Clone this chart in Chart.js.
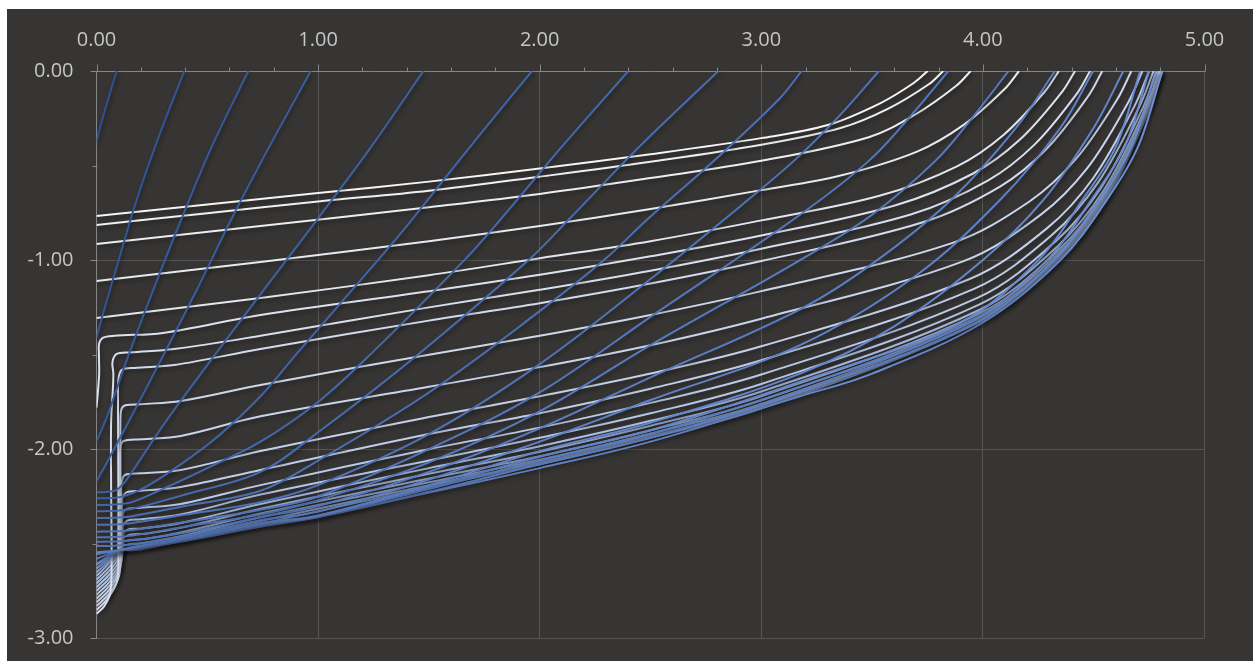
<!DOCTYPE html>
<html>
<head>
<meta charset="utf-8">
<script src="https://cdn.jsdelivr.net/npm/chart.js@4.4.1/dist/chart.umd.min.js"></script>
<style>
  html, body { margin: 0; padding: 0; background: #ffffff; }
  #frame { position: absolute; left: 7px; top: 9px; width: 1246px; height: 652px; background: #373533; }
  canvas { display: block; }
</style>
</head>
<body>
<div id="frame"><canvas id="chart" width="1246" height="652"></canvas></div>
<script>
// Axis ticks
const xTickValues = [0, 1, 2, 3, 4, 5];
const xMinorTicks = [0.2, 0.4, 0.6, 0.8, 1.2, 1.4, 1.6, 1.8, 2.2, 2.4, 2.6, 2.8, 3.2, 3.4, 3.6, 3.8, 4.2, 4.4, 4.6, 4.8];
const yTickValues = [0, -1, -2, -3];
const yMinorTicks = [-0.5, -1.5, -2.5];

// Pale family: each curve as [x, y] points
const paleCurves = [
  [[0,-0.767],[0.5,-0.706],[1,-0.645],[1.5,-0.585],[2,-0.515],[2.5,-0.44],[3,-0.355],[3.3,-0.286],[3.536,-0.171],[3.686,-0.065],[3.751,0]],
  [[0,-0.814],[0.5,-0.752],[1,-0.69],[1.5,-0.633],[2,-0.559],[2.5,-0.48],[3,-0.39],[3.361,-0.30],[3.571,-0.20],[3.756,-0.07],[3.821,0]],
  [[0,-0.915],[0.74,-0.82],[1.5,-0.72],[2,-0.65],[2.5,-0.566],[3,-0.475],[3.485,-0.35],[3.695,-0.23],[3.88,-0.078],[3.945,0]],
  [[0,-1.11],[0.74,-1.01],[1.5,-0.90],[2,-0.82],[2.5,-0.73],[3,-0.63],[3.353,-0.554],[3.703,-0.426],[3.913,-0.285],[4.098,-0.095],[4.163,0]],
  [[0,-1.306],[0.74,-1.20],[1.5,-1.08],[2,-0.99],[2.5,-0.90],[3,-0.79],[3.533,-0.66],[3.883,-0.504],[4.093,-0.338],[4.278,-0.111],[4.343,0]],
  [[0,-1.78],[0.006,-1.70],[0.012,-1.60],[0.011,-1.50],[0.012,-1.44],[0.03,-1.41],[0.08,-1.40],[0.3,-1.385],[0.74,-1.29],[1.5,-1.165],[2,-1.078],[2.5,-0.98],[3,-0.87],[3.606,-0.71],[3.956,-0.542],[4.166,-0.364],[4.351,-0.12],[4.416,0]],
  [[0,-2.87],[0.035,-2.83],[0.062,-2.76],[0.068,-2.6],[0.066,-2.2],[0.066,-1.85],[0.074,-1.68],[0.076,-1.6],[0.072,-1.54],[0.09,-1.497],[0.15,-1.488],[0.35,-1.47],[0.74,-1.40],[1.5,-1.25],[2,-1.157],[2.5,-1.056],[3,-0.94],[3.674,-0.759],[4.024,-0.578],[4.234,-0.388],[4.419,-0.128],[4.484,0]],
  [[0,-2.85],[0.05,-2.79],[0.092,-2.7],[0.098,-2.55],[0.098,-2.0],[0.097,-1.7],[0.1,-1.62],[0.115,-1.58],[0.17,-1.57],[0.35,-1.555],[0.74,-1.47],[1.5,-1.32],[2,-1.228],[2.5,-1.124],[3,-1.005],[3.729,-0.80],[4.079,-0.61],[4.289,-0.41],[4.474,-0.135],[4.539,0]],
  [[0,-2.83],[0.06,-2.76],[0.102,-2.67],[0.108,-2.5],[0.108,-2.1],[0.108,-1.85],[0.112,-1.79],[0.13,-1.768],[0.2,-1.762],[0.38,-1.745],[0.74,-1.66],[1.5,-1.50],[2,-1.40],[2.5,-1.29],[3,-1.164],[3.86,-0.91],[4.21,-0.69],[4.42,-0.465],[4.605,-0.152],[4.67,0]],
  [[0,-2.81],[0.06,-2.74],[0.1,-2.65],[0.105,-2.5],[0.105,-2.1],[0.107,-2.0],[0.12,-1.958],[0.2,-1.948],[0.38,-1.93],[0.74,-1.826],[1.5,-1.67],[2,-1.566],[2.5,-1.45],[3,-1.31],[3.91,-1.007],[4.26,-0.761],[4.47,-0.515],[4.655,-0.168],[4.72,0]],
  [[0,-2.79],[0.06,-2.72],[0.107,-2.63],[0.112,-2.45],[0.112,-2.25],[0.114,-2.17],[0.13,-2.135],[0.2,-2.127],[0.38,-2.11],[0.74,-2.01],[1.5,-1.83],[2,-1.72],[2.5,-1.60],[3,-1.456],[3.94,-1.10],[4.29,-0.831],[4.5,-0.563],[4.685,-0.183],[4.75,0]],
  [[0,-2.77],[0.06,-2.70],[0.11,-2.61],[0.115,-2.45],[0.115,-2.3],[0.118,-2.255],[0.135,-2.228],[0.2,-2.22],[0.38,-2.2],[0.74,-2.11],[1.5,-1.92],[2,-1.81],[2.5,-1.68],[3,-1.53],[3.96,-1.152],[4.31,-0.869],[4.52,-0.589],[4.705,-0.191],[4.77,0]],
  [[0,-2.75],[0.06,-2.68],[0.112,-2.59],[0.117,-2.45],[0.118,-2.35],[0.135,-2.318],[0.2,-2.31],[0.38,-2.29],[0.74,-2.19],[1.5,-2.0],[2,-1.886],[2.5,-1.755],[3,-1.605],[3.975,-1.20],[4.325,-0.904],[4.535,-0.614],[4.72,-0.199],[4.785,0]],
  [[0,-2.73],[0.06,-2.66],[0.113,-2.57],[0.118,-2.46],[0.12,-2.405],[0.14,-2.377],[0.2,-2.37],[0.38,-2.345],[0.74,-2.24],[1.5,-2.06],[2,-1.94],[2.5,-1.81],[3,-1.655],[3.985,-1.234],[4.335,-0.929],[4.545,-0.631],[4.73,-0.205],[4.795,0]],
  [[0,-2.71],[0.06,-2.64],[0.114,-2.55],[0.12,-2.46],[0.14,-2.425],[0.2,-2.42],[0.38,-2.39],[0.74,-2.29],[1.5,-2.10],[2,-1.984],[2.5,-1.85],[3,-1.695],[3.99,-1.26],[4.34,-0.948],[4.55,-0.644],[4.735,-0.209],[4.80,0]],
  [[0,-2.69],[0.06,-2.62],[0.115,-2.53],[0.125,-2.47],[0.15,-2.452],[0.22,-2.447],[0.4,-2.41],[0.74,-2.315],[1.5,-2.13],[2,-2.013],[2.5,-1.876],[3,-1.72],[3.993,-1.277],[4.343,-0.96],[4.553,-0.653],[4.738,-0.211],[4.803,0]],
  [[0,-2.67],[0.06,-2.60],[0.115,-2.52],[0.13,-2.488],[0.16,-2.48],[0.22,-2.475],[0.4,-2.435],[0.74,-2.34],[1.5,-2.155],[2,-2.037],[2.5,-1.90],[3,-1.742],[3.996,-1.29],[4.346,-0.972],[4.556,-0.66],[4.741,-0.214],[4.806,0]],
  [[0,-2.65],[0.06,-2.59],[0.115,-2.525],[0.14,-2.505],[0.2,-2.498],[0.4,-2.455],[0.74,-2.36],[1.5,-2.175],[2,-2.056],[2.5,-1.917],[3,-1.76],[3.998,-1.30],[4.348,-0.98],[4.558,-0.666],[4.743,-0.216],[4.808,0]],
  [[0,-2.63],[0.06,-2.58],[0.115,-2.535],[0.15,-2.522],[0.2,-2.516],[0.4,-2.47],[0.74,-2.38],[1.5,-2.19],[2,-2.07],[2.5,-1.93],[3,-1.774],[4.0,-1.313],[4.35,-0.99],[4.56,-0.673],[4.745,-0.218],[4.81,0]],
  [[0,-2.61],[0.06,-2.57],[0.11,-2.54],[0.2,-2.53],[0.4,-2.48],[0.74,-2.395],[1.5,-2.20],[2,-2.08],[2.5,-1.94],[3,-1.785],[4.0,-1.32],[4.35,-0.995],[4.56,-0.676],[4.746,-0.219],[4.811,0]]
];

// Blue family: each curve as [x, y] points
const blueCurves = [
  [[0.091,0],[0.065,-0.1],[0.04,-0.2],[0.018,-0.29],[0,-0.374]],
  [[0.396,0],[0.28,-0.35],[0.181,-0.682],[0.10,-1.0],[0.04,-1.24],[0,-1.41]],
  [[0.685,0],[0.52,-0.4],[0.384,-0.78],[0.256,-1.158],[0.13,-1.55],[0.05,-1.82],[0,-1.96]],
  [[0.967,0],[0.78,-0.4],[0.61,-0.78],[0.452,-1.158],[0.25,-1.62],[0.053,-2.057],[0,-2.17]],
  [[1.475,0],[1.24,-0.4],[1.0,-0.779],[0.65,-1.32],[0.317,-1.846],[0.2,-2.05],[0.13,-2.17],[0.09,-2.215],[0.04,-2.227],[0,-2.228]],
  [[1.965,0],[1.7,-0.38],[1.422,-0.788],[1.27,-1.0],[0.9,-1.5],[0.74,-1.72],[0.55,-1.93],[0.38,-2.08],[0.22,-2.2],[0.11,-2.252],[0,-2.26]],
  [[2.40,0],[2.1,-0.4],[1.821,-0.788],[1.66,-1.0],[1.235,-1.5],[1.0,-1.75],[0.74,-1.96],[0.5,-2.10],[0.3,-2.21],[0.16,-2.28],[0.08,-2.293],[0,-2.295]],
  [[2.806,0],[2.45,-0.4],[2.129,-0.788],[1.95,-1.0],[1.45,-1.5],[1.0,-1.91],[0.74,-2.12],[0.4,-2.24],[0.16,-2.315],[0.08,-2.326],[0,-2.328]],
  [[3.182,0],[3.084,-0.144],[2.8,-0.46],[2.483,-0.788],[2.29,-1.0],[2.0,-1.27],[1.5,-1.7],[1.0,-2.06],[0.74,-2.22],[0.4,-2.30],[0.16,-2.354],[0.08,-2.362],[0,-2.364]],
  [[3.531,0],[3.35,-0.24],[3.152,-0.47],[2.9,-0.72],[2.5,-1.1],[2.0,-1.55],[1.5,-1.92],[1.0,-2.19],[0.74,-2.28],[0.4,-2.346],[0.16,-2.39],[0.08,-2.398],[0,-2.40]],
  [[3.844,0],[3.68,-0.23],[3.49,-0.47],[3.175,-0.76],[2.5,-1.30],[2.0,-1.70],[1.5,-2.0],[1.0,-2.25],[0.74,-2.32],[0.4,-2.385],[0.16,-2.427],[0.08,-2.434],[0,-2.436]],
  [[4.116,0],[3.95,-0.25],[3.79,-0.47],[3.5,-0.76],[3.175,-1.0],[2.5,-1.45],[2.0,-1.80],[1.5,-2.07],[1.0,-2.27],[0.74,-2.345],[0.4,-2.41],[0.16,-2.457],[0.08,-2.464],[0,-2.466]],
  [[4.325,0],[4.15,-0.3],[3.856,-0.682],[3.5,-1.02],[3.175,-1.26],[2.5,-1.62],[2.0,-1.89],[1.5,-2.12],[1.0,-2.30],[0.74,-2.36],[0.4,-2.44],[0.16,-2.482],[0.08,-2.488],[0,-2.489]],
  [[4.498,0],[4.35,-0.3],[4.077,-0.682],[3.7,-1.08],[3.175,-1.45],[2.5,-1.74],[2.0,-1.96],[1.5,-2.16],[1.0,-2.33],[0.74,-2.375],[0.4,-2.46],[0.16,-2.503],[0.08,-2.51],[0,-2.512]],
  [[4.634,0],[4.5,-0.3],[4.273,-0.682],[4.0,-1.0],[3.6,-1.35],[3.175,-1.60],[2.5,-1.86],[2.0,-2.01],[1.5,-2.19],[1.0,-2.35],[0.74,-2.39],[0.4,-2.47],[0.15,-2.52],[0.106,-2.533],[0,-2.545]],
  [[4.71,0],[4.6,-0.40],[4.45,-0.68],[4.25,-1.0],[3.9,-1.33],[3.175,-1.643],[2.5,-1.90],[2.0,-2.04],[1.5,-2.20],[1.0,-2.353],[0.74,-2.395],[0.4,-2.475],[0.15,-2.525],[0.106,-2.533],[0,-2.556]],
  [[4.75,0],[4.64,-0.40],[4.49,-0.68],[4.29,-1.0],[3.94,-1.33],[3.175,-1.67],[2.5,-1.92],[2.0,-2.06],[1.5,-2.21],[1.0,-2.355],[0.74,-2.40],[0.4,-2.478],[0.15,-2.528],[0.106,-2.533],[0,-2.58]],
  [[4.78,0],[4.67,-0.40],[4.525,-0.68],[4.32,-1.0],[3.97,-1.33],[3.175,-1.696],[2.5,-1.94],[2.0,-2.08],[1.5,-2.225],[1.0,-2.357],[0.74,-2.405],[0.4,-2.48],[0.15,-2.53],[0.106,-2.533],[0,-2.607]],
  [[4.81,0],[4.7,-0.40],[4.56,-0.68],[4.35,-1.0],[4.0,-1.33],[3.5,-1.60],[3.175,-1.72],[2.5,-1.96],[2.0,-2.10],[1.46,-2.24],[1.0,-2.36],[0.74,-2.41],[0.4,-2.485],[0.15,-2.53],[0.106,-2.533],[0,-2.63]]
];

// Styling
const PALE_FROM = [244, 244, 244], PALE_TO = [150, 176, 224];
const BLUE_FROM = [44, 82, 148], BLUE_TO = [112, 148, 222];
const AXIS_COLOR = '#858585';
const GRID_COLOR = '#565554';
const LABEL_COLOR = '#c6c6c6';
const LABEL_FONT = { family: "'Open Sans', sans-serif", size: 20 };

function mix(a, b, t) {
  return 'rgb(' + a.map((v, i) => Math.round(v + (b[i] - v) * t)).join(',') + ')';
}

function curveDataset(points, color, order) {
  return {
    data: points.map(([x, y]) => ({ x, y })),
    showLine: true,
    borderColor: color,
    borderWidth: 2,
    pointRadius: 0,
    pointHoverRadius: 0,
    tension: 0.35,
    order: order
  };
}

// Blue curves are layered above the pale ones
const datasets = [];
paleCurves.forEach((pts, i) => {
  datasets.push(curveDataset(pts, mix(PALE_FROM, PALE_TO, i / (paleCurves.length - 1)), 1));
});
blueCurves.forEach((pts, i) => {
  datasets.push(curveDataset(pts, mix(BLUE_FROM, BLUE_TO, i / (blueCurves.length - 1)), 0));
});

// Soft drop shadow under every curve
const lineShadow = {
  id: 'lineShadow',
  beforeDatasetsDraw(chart) {
    const c = chart.ctx;
    c.save();
    c.shadowColor = 'rgba(0,0,0,0.4)';
    c.shadowBlur = 4;
    c.shadowOffsetX = 1.5;
    c.shadowOffsetY = 2.5;
  },
  afterDatasetsDraw(chart) {
    chart.ctx.restore();
  }
};

// Outside tick marks (major and minor) on both axes
const tickMarks = {
  id: 'tickMarks',
  afterDraw(chart) {
    const { ctx, scales: { x, y } } = chart;
    const top = Math.round(y.getPixelForValue(0)) + 0.5;
    const left = Math.round(x.getPixelForValue(0)) + 0.5;
    ctx.save();
    ctx.strokeStyle = AXIS_COLOR;
    ctx.lineWidth = 1;
    ctx.beginPath();
    xTickValues.forEach(v => {
      const px = Math.round(x.getPixelForValue(v)) + 0.5;
      ctx.moveTo(px, top); ctx.lineTo(px, top - 7);
    });
    xMinorTicks.forEach(v => {
      const px = Math.round(x.getPixelForValue(v)) + 0.5;
      ctx.moveTo(px, top); ctx.lineTo(px, top - 4);
    });
    yTickValues.forEach(v => {
      const py = Math.round(y.getPixelForValue(v)) + 0.5;
      ctx.moveTo(left, py); ctx.lineTo(left - 7, py);
    });
    yMinorTicks.forEach(v => {
      const py = Math.round(y.getPixelForValue(v)) + 0.5;
      ctx.moveTo(left, py); ctx.lineTo(left - 5, py);
    });
    ctx.stroke();
    ctx.restore();
  }
};

new Chart(document.getElementById('chart'), {
  type: 'scatter',
  data: { datasets },
  plugins: [lineShadow, tickMarks],
  options: {
    responsive: false,
    animation: false,
    events: [],
    layout: { padding: { left: 0, top: 0, right: 48.5, bottom: 22.7 } },
    plugins: { legend: { display: false }, tooltip: { enabled: false } },
    scales: {
      x: {
        type: 'linear',
        position: 'top',
        min: 0,
        max: 5,
        afterBuildTicks: s => { s.ticks = xTickValues.map(v => ({ value: v })); },
        afterFit: s => { s.height = 62; s.paddingLeft = 0; s.paddingRight = 0; },
        grid: {
          color: c => (c.tick && c.tick.value === 0) ? 'rgba(0,0,0,0)' : GRID_COLOR,
          lineWidth: 1,
          drawTicks: false
        },
        border: { color: AXIS_COLOR, width: 1 },
        ticks: {
          color: LABEL_COLOR,
          font: LABEL_FONT,
          padding: 19,
          maxRotation: 0,
          autoSkip: false,
          callback: v => Number(v).toFixed(2)
        }
      },
      y: {
        type: 'linear',
        position: 'left',
        min: -3,
        max: 0,
        afterBuildTicks: s => { s.ticks = yTickValues.map(v => ({ value: v })); },
        afterFit: s => { s.width = 89.5; s.paddingTop = 0; s.paddingBottom = 0; },
        grid: {
          color: c => (c.tick && c.tick.value === 0) ? 'rgba(0,0,0,0)' : GRID_COLOR,
          lineWidth: 1,
          drawTicks: false
        },
        border: { color: AXIS_COLOR, width: 1 },
        ticks: {
          color: LABEL_COLOR,
          font: LABEL_FONT,
          padding: 23,
          autoSkip: false,
          callback: v => Number(v).toFixed(2)
        }
      }
    }
  }
});
</script>
</body>
</html>
